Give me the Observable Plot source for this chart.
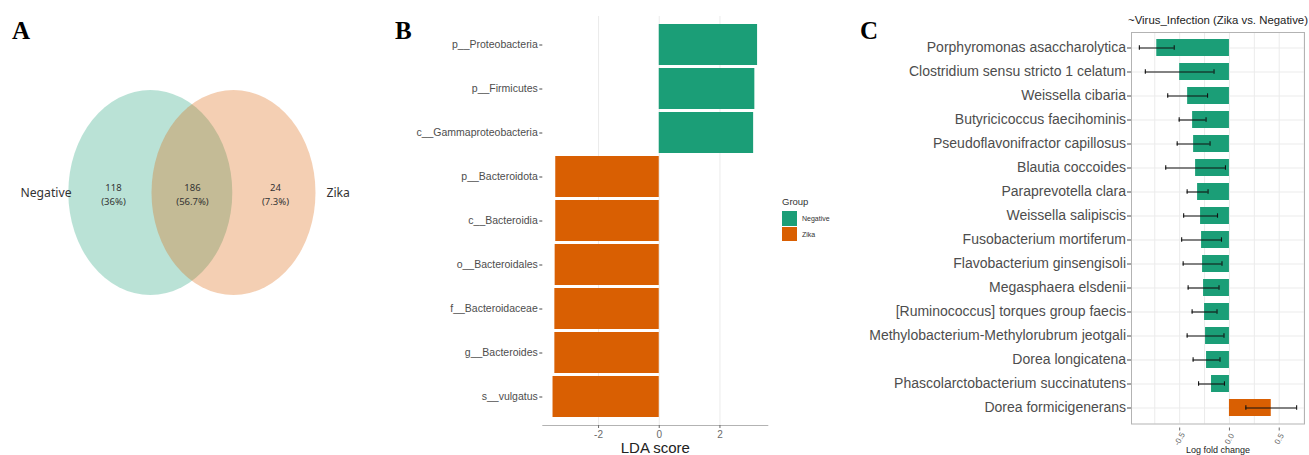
<!DOCTYPE html>
<html>
<head>
<meta charset="utf-8">
<script src="https://cdn.jsdelivr.net/npm/d3@7"></script>
<script src="https://cdn.jsdelivr.net/npm/@observablehq/plot@0.6"></script>
<style>
  body { margin: 0; background: #fff; }
  #fig { position: relative; width: 1309px; height: 455px; overflow: hidden;
         font-family: "Liberation Sans", Arial, Helvetica, sans-serif; }
  .panel { position: absolute; top: 0; }
  .panel svg { overflow: visible; }
  .tag { position: absolute; top: 18px; font-family: "Liberation Serif", "Times New Roman", serif;
         font-weight: bold; font-size: 25px; line-height: 1; color: #000; }
  .legend { position: absolute; left: 782px; top: 196px; color: #333; }
  .legend .ttl { font-size: 9.5px; line-height: 12px; margin-bottom: 3px; }
  .legend .row { display: flex; align-items: center; height: 15px; margin-bottom: 0.5px; }
  .legend .sw { width: 15px; height: 14.5px; margin-right: 5px; }
  .legend .lab { font-size: 7px; }
</style>
</head>
<body>
<div id="fig">
  <div class="tag" style="left:12px">A</div>
  <div class="tag" style="left:395px">B</div>
  <div class="tag" style="left:860px">C</div>
  <div class="panel" id="pA" style="left:0"></div>
  <div class="panel" id="pB" style="left:380px"></div>
  <div class="legend" id="legB"></div>
  <div class="panel" id="pC" style="left:840px"></div>
</div>
<script>
// ---- Panel A: shared taxa between groups ----
const vennSets = ["Negative", "Zika"];
const vennRegions = ["Negative only", "Shared", "Zika only"];
const vennCounts = [118, 186, 24];

// ---- Panel B: LEfSe LDA scores ----
const ldaFeatures = ["p__Proteobacteria", "p__Firmicutes", "c__Gammaproteobacteria",
  "p__Bacteroidota", "c__Bacteroidia", "o__Bacteroidales", "f__Bacteroidaceae",
  "g__Bacteroides", "s__vulgatus"];
const ldaScores = [3.24, 3.15, 3.11, -3.41, -3.41, -3.43, -3.44, -3.44, -3.50];
const ldaGroups = ["Negative", "Negative", "Negative", "Zika", "Zika", "Zika", "Zika", "Zika", "Zika"];

// ---- Panel C: differential abundance (log fold change ± SE) ----
const daTaxa = ["Porphyromonas asaccharolytica", "Clostridium sensu stricto 1 celatum",
  "Weissella cibaria", "Butyricicoccus faecihominis", "Pseudoflavonifractor capillosus",
  "Blautia coccoides", "Paraprevotella clara", "Weissella salipiscis",
  "Fusobacterium mortiferum", "Flavobacterium ginsengisoli", "Megasphaera elsdenii",
  "[Ruminococcus] torques group faecis", "Methylobacterium-Methylorubrum jeotgali",
  "Dorea longicatena", "Phascolarctobacterium succinatutens", "Dorea formicigenerans"];
const daLfc = [-0.73, -0.50, -0.42, -0.37, -0.36, -0.34, -0.32, -0.29, -0.28, -0.27,
  -0.26, -0.25, -0.24, -0.23, -0.18, 0.42];
const daSe = [0.175, 0.345, 0.20, 0.135, 0.165, 0.30, 0.105, 0.17, 0.20, 0.195,
  0.155, 0.125, 0.185, 0.135, 0.13, 0.255];

const groupColors = ["#1b9e77", "#d95f02"];
const textGrey = "#4d4d4d";

// 5% padding on each side of a continuous extent
const expand = ([a, b], k = 0.05) => [a - (b - a) * k, b + (b - a) * k];

// ===================== A: Venn =====================
{
  const total = d3.sum(vennCounts);
  const pct = c => +(c / total * 100).toFixed(1);
  const regions = vennRegions.map((r, i) => ({region: r, count: vennCounts[i], pct: pct(vennCounts[i])}));
  // layout of the two equal ellipses (pixel units)
  const cy = 192.5, rx = 82, ry = 102.5, cxs = [150.3, 233.5];
  const regionX = [113, 192, 275];
  const sets = vennSets.map((s, i) => ({set: s, cx: cxs[i]}));

  const chart = Plot.plot({
    width: 380, height: 455, margin: 0,
    x: {domain: [0, 380], range: [0, 380], axis: null},
    y: {domain: [0, 455], range: [0, 455], axis: null},
    color: {domain: vennSets, range: groupColors},
    marks: [
      Plot.rect(sets, {x1: d => d.cx - rx, x2: d => d.cx + rx, y1: cy - ry, y2: cy + ry,
        rx, ry, fill: "set", fillOpacity: 0.3}),
      Plot.text(regions, {x: (d, i) => regionX[i], y: cy + 0.5,
        text: d => `${d.count}\n(${d.pct}%)`, fontSize: 9.5, lineHeight: 1.5, fill: "#333"}),
      Plot.text(sets.slice(0, 1), {x: 71, y: cy, text: "set", textAnchor: "end", fontSize: 12.2, fill: "#333"}),
      Plot.text(sets.slice(1), {x: 326, y: cy, text: "set", textAnchor: "start", fontSize: 12.2, fill: "#333"})
    ]
  });
  document.getElementById("pA").append(chart);
}

// ===================== B: LDA scores =====================
{
  const lda = ldaFeatures.map((f, i) => ({feature: f, score: ldaScores[i], group: ldaGroups[i]}));
  const chart = Plot.plot({
    width: 400, height: 455,
    marginLeft: 162.3, marginRight: 12.7, marginTop: 16, marginBottom: 30,
    style: {fontFamily: "'Liberation Sans', Arial, sans-serif"},
    x: {domain: expand(d3.extent([0, ...ldaScores]))},
    y: {type: "band", domain: ldaFeatures, paddingInner: 0.07, paddingOuter: 0.135},
    color: {domain: vennSets, range: groupColors},
    marks: [
      Plot.gridX({ticks: [-2, 0, 2], stroke: "#ebebeb", strokeOpacity: 1}),
      Plot.barX(lda, {x: "score", y: "feature", fill: "group"}),
      Plot.frame({anchor: "bottom", stroke: "#b3b3b3"}),
      Plot.axisX({ticks: [-2, 0, 2], tickFormat: d => String(d), tickSize: 3, tickPadding: 2,
        fontSize: 10, label: null, color: "#6a6a6a"}),
      Plot.axisY({tickSize: 3, tickPadding: 2, fontSize: 10.5, label: null, color: textGrey}),
      Plot.text(["LDA score"], {frameAnchor: "bottom", lineAnchor: "middle", dy: 23,
        fontSize: 15, fill: "#222"})
    ]
  });
  document.getElementById("pB").append(chart);

  const leg = document.getElementById("legB");
  leg.innerHTML = `<div class="ttl">Group</div>` + vennSets.map((g, i) =>
    `<div class="row"><div class="sw" style="background:${groupColors[i]}"></div><span class="lab">${g}</span></div>`).join("");
}

// ===================== C: log fold change =====================
{
  const da = daTaxa.map((t, i) => ({taxon: t, lfc: daLfc[i], se: daSe[i],
    group: daLfc[i] < 0 ? "Negative" : "Zika"}));
  const lo = d => d.lfc - d.se, hi = d => d.lfc + d.se;
  const chart = Plot.plot({
    width: 469, height: 455,
    marginLeft: 291, marginRight: 5, marginTop: 32, marginBottom: 31.5,
    style: {fontFamily: "'Liberation Sans', Arial, sans-serif"},
    x: {domain: expand([d3.min(da, lo), d3.max(da, hi)])},
    y: {type: "band", domain: daTaxa, paddingInner: 0.28, paddingOuter: 0.24},
    color: {domain: vennSets, range: groupColors},
    marks: [
      Plot.gridX({ticks: [-0.75, -0.5, -0.25, 0, 0.25, 0.5, 0.75], stroke: "#ebebeb", strokeOpacity: 1}),
      Plot.gridY({stroke: "#ebebeb", strokeOpacity: 1}),
      Plot.barX(da, {x: "lfc", y: "taxon", fill: "group"}),
      Plot.ruleY(da, {x1: lo, x2: hi, y: "taxon", stroke: "#111", strokeWidth: 1.1}),
      Plot.tickX(da, {x: lo, y: "taxon", stroke: "#111", strokeWidth: 1.1, insetTop: 6.3, insetBottom: 6.3}),
      Plot.tickX(da, {x: hi, y: "taxon", stroke: "#111", strokeWidth: 1.1, insetTop: 6.3, insetBottom: 6.3}),
      Plot.frame({stroke: "#b3b3b3"}),
      Plot.axisY({tickSize: 4, tickPadding: 1.5, fontSize: 14, label: null, color: textGrey}),
      Plot.axisX({ticks: [-0.5, 0, 0.5], tickFormat: d => d.toFixed(1), tickSize: 3,
        tickRotate: -60, textAnchor: "middle", lineAnchor: "middle", dy: 4, fontSize: 8,
        label: null, color: "#6a6a6a"}),
      Plot.text(["~Virus_Infection (Zika vs. Negative)"], {frameAnchor: "top", lineAnchor: "middle",
        dy: -12, fontSize: 11.4, fill: "#222"}),
      Plot.text(["Log fold change"], {frameAnchor: "bottom", lineAnchor: "middle", dy: 26.5,
        fontSize: 9, fill: "#222"})
    ]
  });
  document.getElementById("pC").append(chart);
}
</script>
</body>
</html>
